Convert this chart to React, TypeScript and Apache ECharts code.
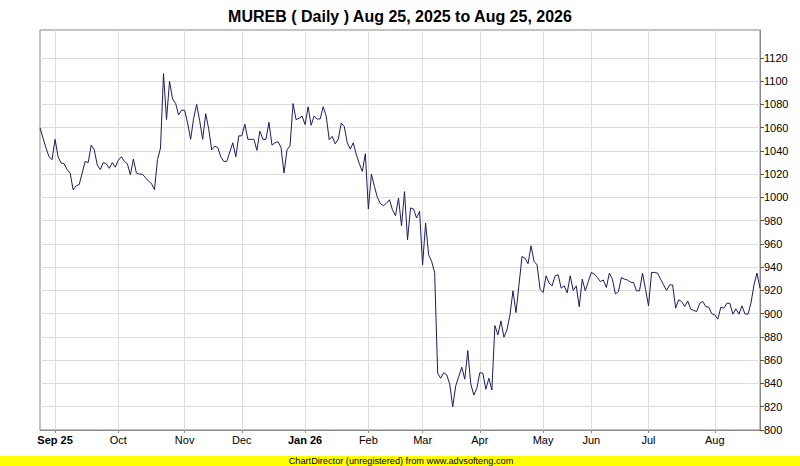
import React, { useEffect, useRef } from 'react';
import * as echarts from 'echarts';

const titleText = 'MUREB ( Daily ) Aug 25, 2025 to Aug 25, 2026';
const footerText = 'ChartDirector (unregistered) from www.advsofteng.com';

const monthLabels = ['', 'Sep 25', 'Oct', 'Nov', 'Dec', 'Jan 26', 'Feb', 'Mar', 'Apr', 'May', 'Jun', 'Jul', 'Aug'];
const monthTradingDays = [5, 21, 22, 19, 21, 21, 18, 19, 21, 16, 19, 22, 16];
const boldLabels = ['Sep 25', 'Jan 26'];

const yTicks = [800, 820, 840, 860, 880, 900, 920, 940, 960, 980, 1000, 1020, 1040, 1060, 1080, 1100, 1120];

const closes = [
  // Aug 25 - Oct
  1060, 1051, 1042.5, 1035, 1032.5, 1050, 1035, 1029.6, 1029, 1024,
  1021, 1006.6, 1010, 1011, 1021, 1031, 1030, 1045, 1041, 1028,
  1024, 1030, 1029, 1025, 1030, 1026, 1032, 1035, 1031, 1029,
  1019.5, 1033, 1021, 1020, 1020, 1017, 1014, 1012, 1006.6, 1032.5,
  1042.5, 1106.5,
  // Nov - Dec
  1067, 1100, 1084.7, 1081, 1071, 1075, 1075, 1064, 1050, 1068,
  1080, 1066, 1050, 1072, 1059, 1041, 1044, 1043, 1035, 1031,
  1031, 1039, 1047, 1035, 1053, 1053, 1063, 1050, 1050, 1050,
  1040.5, 1057, 1050, 1050, 1064.6, 1045, 1047, 1048, 1043, 1021,
  1041, 1044.5, 1080.7, 1067, 1068, 1070,
  // Jan
  1062.6, 1078, 1062, 1070, 1067.5, 1067.5, 1078, 1070, 1049.7, 1052.5,
  1046, 1050, 1064, 1061, 1047, 1041.7, 1047, 1036.8, 1029, 1022.4,
  1037.6,
  // Feb
  990, 1020, 1009.5, 1000, 994.6, 992.9, 995, 998, 989.4, 984.3,
  999.5, 975.6, 1005, 963.6, 991, 990, 982.3, 988,
  // Mar
  942, 978, 950.7, 945, 935.4, 848.8, 844.5, 849.3, 847.4, 839.6,
  820, 837.9, 846, 854, 843.7, 868.3, 839.6, 830, 835.9,
  // Apr
  849.3, 848.8, 835, 844.5, 834.4, 889.8, 881.8, 893.8, 879.8, 886,
  899, 919.7, 901, 924.8, 949.2, 947.8, 943, 958.4, 945, 942,
  921,
  // May
  918.2, 932.6, 926.3, 924, 932.6, 933.5, 922, 924, 918, 932.6,
  920, 924, 906, 929.7, 919.7, 927.7,
  // Jun
  935.5, 934, 931.2, 927.7, 929, 922.5, 934.9, 929.7, 917, 919,
  931.2, 929.7, 929, 927.1, 926.9, 919.7, 919.7, 934.9, 921,
  // Jul
  906.8, 935.5, 935.5, 934.9, 929.7, 924.8, 920, 924.8, 924.8, 904.8,
  912, 910.5, 906.2, 911, 903.9, 902.8, 901.9, 909, 910.5, 906.2,
  905.6, 899.9,
  // Aug
  899, 895.3, 905.6, 904.8, 909, 909, 899.6, 904.2, 899.6, 906.8,
  899.9, 899.6, 909, 924.8, 934.9, 922,
];

const FONT = '"Liberation Sans", Arial, sans-serif';

export default function App() {
  const ref = useRef<HTMLDivElement>(null);

  useEffect(() => {
    if (!ref.current) return;
    const chart = echarts.init(ref.current, undefined, { renderer: 'svg' });

    const categories: string[] = [];
    const labelAt: Record<number, string> = {};
    monthTradingDays.forEach((count, m) => {
      for (let d = 0; d < count; d++) {
        if (d === 0 && monthLabels[m]) labelAt[categories.length] = monthLabels[m];
        categories.push(`m${m}-d${d}`);
      }
    });
    const isMonthStart = (index: number) => labelAt[index] !== undefined;

    const splitColors = yTicks.map(() => '#dddddd');
    splitColors.push('rgba(0,0,0,0)', '#dddddd');

    chart.setOption({
      animation: false,
      backgroundColor: '#ffffff',
      title: {
        text: titleText,
        left: 'center',
        top: 3,
        textStyle: { fontFamily: FONT, fontSize: 16, fontWeight: 'bold', color: '#000000' },
      },
      grid: {
        left: 40,
        right: 40,
        top: 30,
        bottom: 36,
        show: true,
        borderColor: '#888888',
        borderWidth: 1,
        backgroundColor: '#ffffff',
      },
      xAxis: {
        type: 'category',
        data: categories,
        boundaryGap: false,
        axisLine: { show: true, lineStyle: { color: '#888888', width: 1 } },
        axisTick: {
          show: true,
          length: 3,
          interval: (index: number) => isMonthStart(index),
          lineStyle: { color: '#888888' },
        },
        splitLine: {
          show: true,
          interval: (index: number) => isMonthStart(index),
          lineStyle: { color: '#dddddd', width: 1 },
        },
        axisLabel: {
          show: true,
          interval: (index: number) => isMonthStart(index),
          margin: 4,
          fontFamily: FONT,
          fontSize: 11,
          color: '#000000',
          formatter: (_v: string, index: number) => {
            const t = labelAt[index] || '';
            return boldLabels.includes(t) ? `{b|${t}}` : t;
          },
          rich: {
            b: { fontFamily: FONT, fontSize: 11, fontWeight: 'bold', color: '#000000' },
          },
        },
      },
      yAxis: {
        type: 'value',
        position: 'right',
        min: 800,
        max: 1144,
        interval: 20,
        axisLine: { show: true, lineStyle: { color: '#888888', width: 1 } },
        axisTick: {
          show: true,
          length: 4,
          customValues: yTicks,
          lineStyle: { color: '#555555' },
        },
        splitLine: {
          show: true,
          lineStyle: { color: splitColors, width: 1 },
        },
        axisLabel: {
          show: true,
          customValues: yTicks,
          margin: 4,
          fontFamily: FONT,
          fontSize: 11,
          color: '#000000',
          formatter: (v: number) => String(Math.round(v)),
        },
      },
      graphic: [
        {
          type: 'rect',
          shape: { x: 0, y: 456, width: 800, height: 10 },
          style: { fill: '#ffff00' },
          silent: true,
        },
        {
          type: 'text',
          x: 401,
          y: 461,
          style: {
            text: footerText,
            fontFamily: FONT,
            fontSize: 9.2,
            fill: '#000000',
            align: 'center',
            verticalAlign: 'middle',
          },
          silent: true,
        },
      ],
      series: [
        {
          type: 'line',
          data: closes,
          symbol: 'none',
          lineStyle: { color: '#1c1c5e', width: 1 },
          z: 3,
        },
      ],
    });

    return () => chart.dispose();
  }, []);

  return (
    <div
      ref={ref}
      style={{ position: 'fixed', left: 0, top: 0, width: 800, height: 466 }}
    />
  );
}
